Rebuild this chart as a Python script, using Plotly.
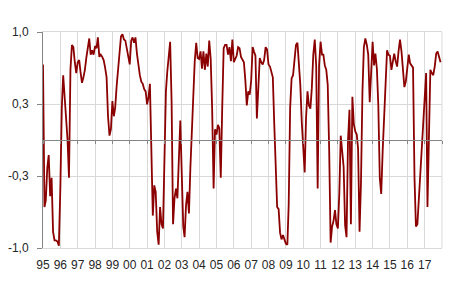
import plotly.graph_objects as go
import pandas as pd

# Monthly values, Jan 1995 - Dec 2017 (one row per year)
values = [
    0.70, -0.62, -0.56, -0.26, -0.14, -0.52, -0.35, -0.85, -0.93, -0.93, -0.94, -0.98,   # 1995
    -0.45, 0.30, 0.60, 0.40, 0.15, 0.00, -0.35, 0.65, 0.88, 0.86, 0.72, 0.62,            # 1996
    0.72, 0.74, 0.63, 0.53, 0.58, 0.65, 0.76, 0.86, 0.94, 0.79, 0.83, 0.79,              # 1997
    0.87, 0.85, 0.95, 0.77, 0.79, 0.77, 0.74, 0.67, 0.58, 0.22, 0.04, 0.10,              # 1998
    0.36, 0.22, 0.30, 0.50, 0.68, 0.85, 0.96, 0.98, 0.93, 0.92, 0.85, 0.75,              # 1999
    0.70, 0.92, 0.95, 0.90, 0.95, 0.80, 0.68, 0.60, 0.54, 0.52, 0.47, 0.45,              # 2000
    0.33, 0.40, 0.52, -0.25, -0.70, -0.42, -0.48, -0.85, -0.97, -0.62, -0.78, -0.82,     # 2001
    -0.05, 0.45, 0.63, 0.80, 0.91, 0.35, -0.78, -0.54, -0.45, -0.54, -0.14, 0.18,        # 2002
    -0.32, -0.80, -0.90, -0.60, -0.48, -0.68, -0.26, 0.08, 0.51, 0.73, 0.90, 0.76,       # 2003
    0.75, 0.82, 0.66, 0.82, 0.65, 0.80, 0.68, 0.92, 0.75, 0.30, -0.45, 0.10,             # 2004
    0.05, 0.14, 0.11, -0.35, 0.29, 0.85, 0.88, 0.88, 0.79, 0.86, 0.73, 0.93,             # 2005
    0.72, 0.75, 0.78, 0.86, 0.85, 0.77, 0.75, 0.72, 0.55, 0.32, 0.45, 0.42,              # 2006
    0.55, 0.86, 0.82, 0.78, 0.20, 0.55, 0.76, 0.72, 0.70, 0.74, 0.86, 0.84,              # 2007
    0.70, 0.68, 0.62, 0.58, 0.15, -0.25, -0.62, -0.64, -0.86, -0.92, -0.88, -0.92,       # 2008
    -0.96, -0.97, -0.60, 0.30, 0.57, 0.60, 0.71, 0.88, 0.90, 0.74, 0.51, 0.17,           # 2009
    -0.05, -0.30, 0.20, 0.45, 0.32, 0.29, 0.48, 0.79, 0.93, 0.69, -0.45, 0.69,           # 2010
    0.91, 0.79, 0.79, 0.69, 0.65, 0.51, -0.08, -0.95, -0.80, -0.75, -0.65, -0.78,        # 2011
    -0.82, -0.48, 0.04, -0.08, -0.25, -0.79, -0.90, 0.00, 0.28, -0.78, 0.40, 0.15,       # 2012
    0.08, 0.05, -0.08, -0.85, -0.40, 0.45, 0.86, 0.94, 0.88, 0.79, 0.35, 0.62,           # 2013
    0.91, 0.69, 0.80, 0.66, 0.32, -0.35, -0.50, -0.10, 0.26, 0.57, 0.83, 0.79,           # 2014
    0.78, 0.65, 0.71, 0.80, 0.73, 0.68, 0.82, 0.93, 0.82, 0.63, 0.49, 0.54,              # 2015
    0.69, 0.79, 0.71, 0.69, 0.67, -0.35, -0.80, -0.78, -0.55, -0.30, -0.05, 0.17,        # 2016
    0.40, 0.62, -0.62, 0.15, 0.65, 0.62, 0.60, 0.68, 0.80, 0.82, 0.76, 0.72,             # 2017
]
dates = pd.date_range("1995-01-01", periods=len(values), freq="MS")

years = list(range(1995, 2019))
year_ticks = [f"{y}-01-01" for y in years]
year_labels = [f"{y % 100:02d}" for y in years[:-1]] + [""]

y_ticks = [-1, -1/3, 1/3, 1]
y_labels = ["-1,0", "-0,3", "0,3", "1,0"]

line_color = "#8B0000"
grid_color = "#d9d9d9"
axis_color = "#868686"
x_range = ["1995-01-01", "2018-01-01"]

fig = go.Figure()
fig.add_trace(go.Scatter(x=dates, y=values, mode="lines",
                         line=dict(color=line_color, width=1.8),
                         showlegend=False, hoverinfo="skip"))
# empty trace so the zero-line tick axis exists
fig.add_trace(go.Scatter(x=[], y=[], xaxis="x2", showlegend=False))

fig.update_layout(
    width=450, height=291,
    margin=dict(l=41, r=8, t=32, b=43),
    paper_bgcolor="white", plot_bgcolor="white",
    font=dict(family="Liberation Sans, Arial, sans-serif", size=12, color="#262626"),
    xaxis=dict(type="date", range=x_range, tickmode="array",
               tickvals=year_ticks, ticktext=year_labels,
               showgrid=True, gridcolor=grid_color, gridwidth=1,
               showline=True, linecolor=grid_color, mirror=True,
               ticks="", ticklabelstandoff=6, zeroline=False),
    xaxis2=dict(type="date", range=x_range, overlaying="x", anchor="free",
                position=0.5, side="bottom", tickmode="array",
                tickvals=year_ticks, showticklabels=False,
                showgrid=False, showline=True, linecolor=axis_color,
                ticks="outside", ticklen=3, tickcolor=axis_color, zeroline=False),
    yaxis=dict(range=[-1, 1], tickmode="array", tickvals=y_ticks, ticktext=y_labels,
               showgrid=True, gridcolor=grid_color, gridwidth=1,
               showline=True, linecolor=axis_color,
               ticks="outside", ticklen=5, tickcolor=axis_color,
               ticklabelstandoff=6, zeroline=False),
    shapes=[dict(type="line", xref="x domain", yref="y domain",
                 x0=1, x1=1, y0=0, y1=1, layer="below",
                 line=dict(color=grid_color, width=1))],
)

fig.write_html("out.html")
